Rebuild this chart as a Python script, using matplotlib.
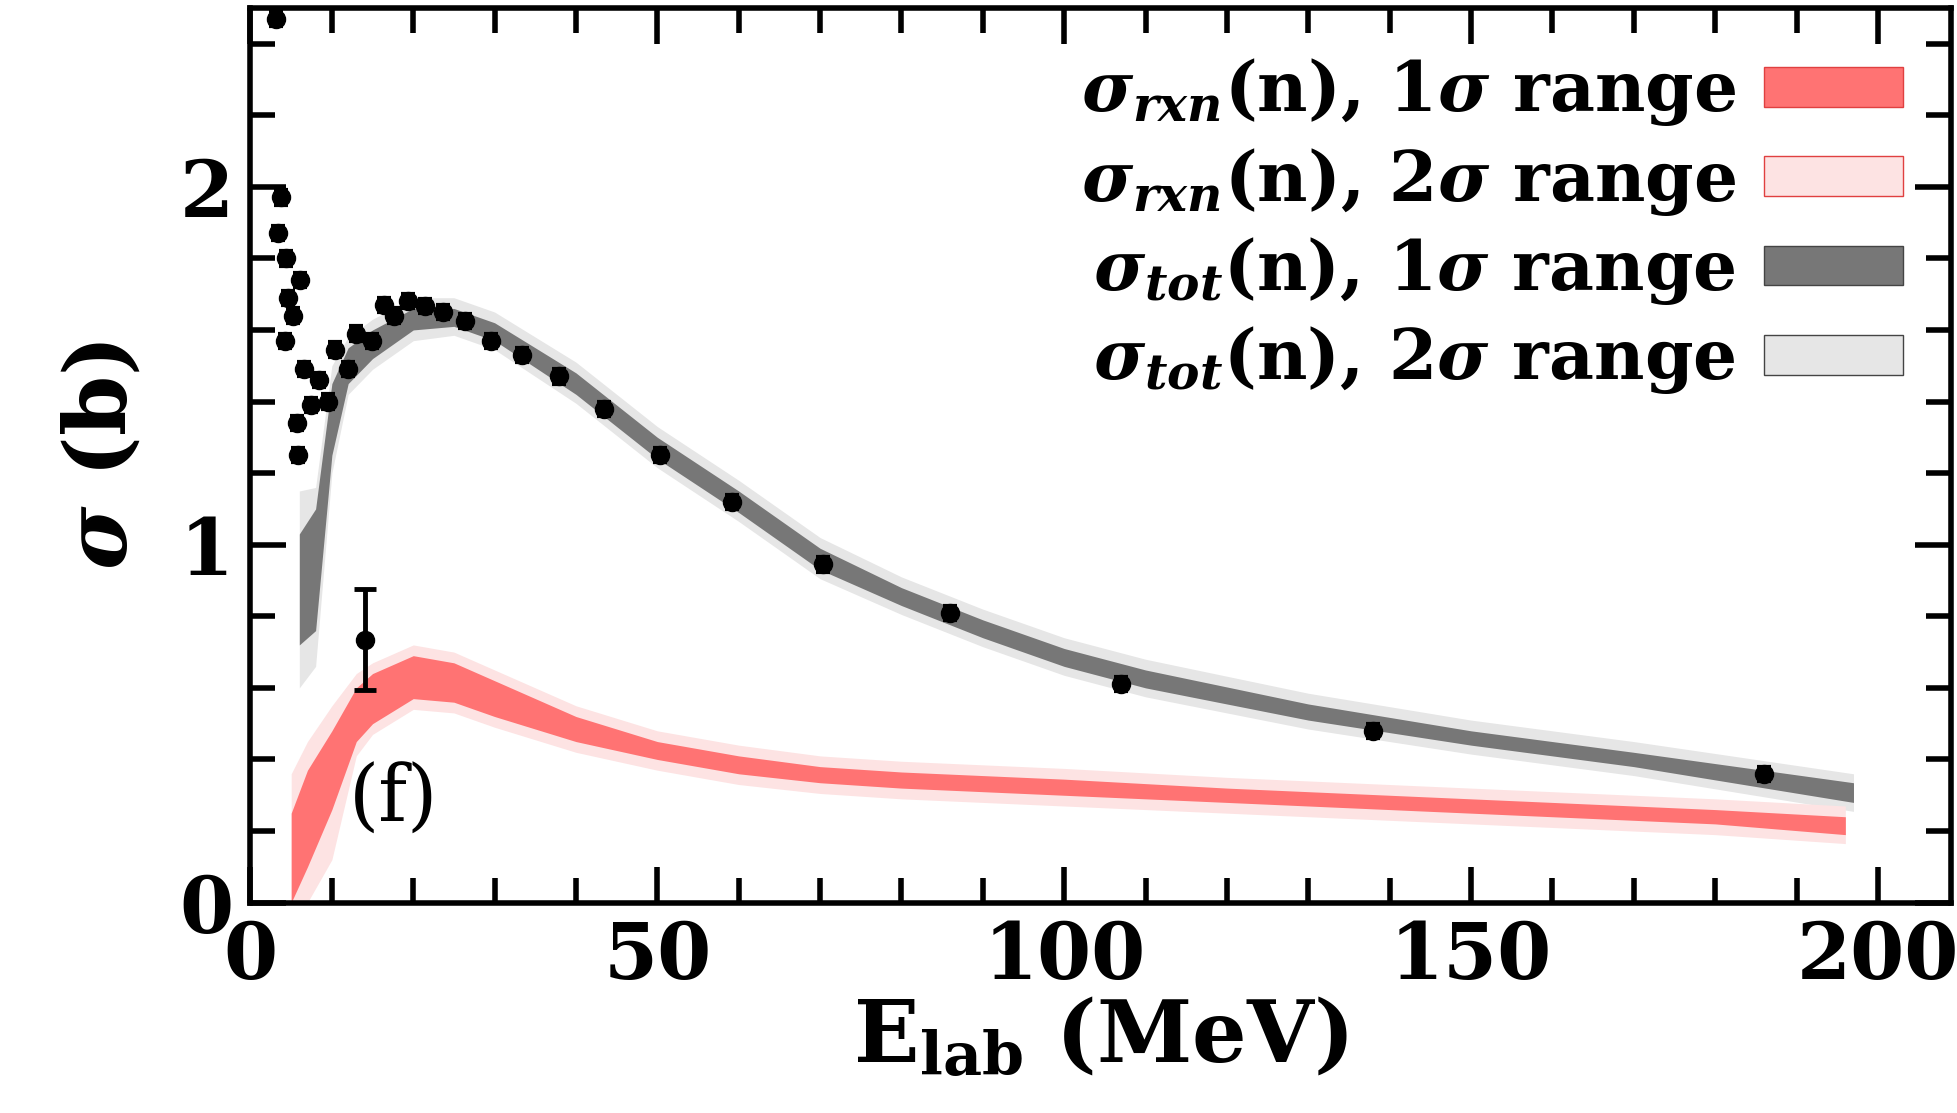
import matplotlib
matplotlib.use("Agg")
import matplotlib.pyplot as plt
import numpy as np
from matplotlib.patches import Patch
from matplotlib.ticker import MultipleLocator

plt.rcParams['font.family'] = 'DejaVu Serif'
plt.rcParams['font.weight'] = 'bold'
plt.rcParams['mathtext.fontset'] = 'custom'
plt.rcParams['mathtext.rm'] = 'DejaVu Serif:bold'
plt.rcParams['mathtext.it'] = 'DejaVu Serif:italic:bold'
plt.rcParams['mathtext.bf'] = 'DejaVu Serif:bold'

# total cross-section data
data_x = [3.1, 3.4, 3.8, 4.3, 4.4, 4.6, 5.2, 5.7, 5.8, 6.1, 6.6, 7.4, 8.4, 9.5, 10.4, 12.0, 13.0,
          14.9, 16.4, 17.6, 19.3, 21.5, 23.6, 26.4, 29.6, 33.4, 37.9, 43.4, 50.3, 59.2, 70.3,
          86.0, 107.0, 138.0, 186.0]
data_y = [2.47, 1.87, 1.97, 1.57, 1.80, 1.69, 1.64, 1.34, 1.25, 1.74, 1.49, 1.39, 1.46, 1.40, 1.545,
          1.49, 1.59, 1.57, 1.67, 1.64, 1.68, 1.667, 1.65, 1.625, 1.57, 1.53, 1.47, 1.38, 1.25,
          1.12, 0.945, 0.81, 0.61, 0.48, 0.36]
# reaction cross-section data point
rxn_x = [14.1]
rxn_y = [0.735]
rxn_err = [0.14]

# total band
tot_x = [6, 8, 10, 12, 15, 20, 25, 30, 40, 50, 60, 70, 80, 90, 100, 110, 130, 150, 170, 197]
tot1_lo = [0.72, 0.76, 1.25, 1.45, 1.52, 1.60, 1.61, 1.57, 1.42, 1.24, 1.09, 0.93, 0.83, 0.74, 0.66, 0.60, 0.51, 0.44, 0.38, 0.28]
tot1_hi = [1.03, 1.10, 1.45, 1.55, 1.60, 1.66, 1.66, 1.62, 1.48, 1.30, 1.15, 0.99, 0.88, 0.79, 0.71, 0.65, 0.555, 0.48, 0.42, 0.335]
tot2_lo = [0.60, 0.66, 1.20, 1.42, 1.49, 1.57, 1.585, 1.545, 1.395, 1.215, 1.065, 0.905, 0.805, 0.715, 0.635, 0.575, 0.485, 0.415, 0.355, 0.255]
tot2_hi = [1.15, 1.16, 1.50, 1.58, 1.63, 1.69, 1.69, 1.65, 1.51, 1.33, 1.18, 1.02, 0.91, 0.82, 0.74, 0.68, 0.585, 0.51, 0.45, 0.36]

# reaction band
rxn_bx = [5, 7, 10, 13, 15, 20, 25, 30, 40, 50, 60, 70, 80, 100, 120, 150, 180, 196]
rxn1_lo = [0.00, 0.10, 0.26, 0.45, 0.50, 0.57, 0.56, 0.52, 0.45, 0.40, 0.36, 0.335, 0.32, 0.30, 0.28, 0.25, 0.22, 0.19]
rxn1_hi = [0.25, 0.37, 0.48, 0.60, 0.64, 0.69, 0.67, 0.62, 0.52, 0.45, 0.41, 0.38, 0.365, 0.345, 0.32, 0.29, 0.26, 0.24]
rxn2_lo = [0.00, 0.00, 0.12, 0.41, 0.47, 0.54, 0.53, 0.49, 0.42, 0.37, 0.33, 0.305, 0.29, 0.27, 0.25, 0.22, 0.19, 0.165]
rxn2_hi = [0.36, 0.45, 0.55, 0.64, 0.67, 0.72, 0.70, 0.65, 0.55, 0.48, 0.44, 0.41, 0.395, 0.375, 0.35, 0.32, 0.29, 0.27]

red, pink = '#ff7373', '#fde3e3'
dgrey, lgrey = '#777777', '#e6e6e6'

fig = plt.figure(figsize=(19.57, 11.13), dpi=100)
ax = fig.add_axes([0.128, 0.189, 0.869, 0.804])

ax.fill_between(tot_x, tot2_lo, tot2_hi, color=lgrey, lw=0)
ax.fill_between(tot_x, tot1_lo, tot1_hi, color=dgrey, lw=0)
ax.fill_between(rxn_bx, rxn2_lo, rxn2_hi, color=pink, lw=0)
ax.fill_between(rxn_bx, rxn1_lo, rxn1_hi, color=red, lw=0)

ax.errorbar(data_x, data_y, yerr=0.02, fmt='o', color='black', ms=13, capsize=5, elinewidth=3, capthick=3)
ax.errorbar(rxn_x, rxn_y, yerr=rxn_err, fmt='o', color='black', ms=13, capsize=8, elinewidth=3.5, capthick=3.5)

ax.set_xlim(0, 209)
ax.set_ylim(0, 2.5)
ax.xaxis.set_major_locator(MultipleLocator(50))
ax.xaxis.set_minor_locator(MultipleLocator(10))
ax.yaxis.set_major_locator(MultipleLocator(1))
ax.yaxis.set_minor_locator(MultipleLocator(0.2))
ax.tick_params(which='both', direction='in', top=True, right=True, width=4, labelsize=56, pad=12)
ax.tick_params(which='major', length=26)
ax.tick_params(which='minor', length=18)
for s in ax.spines.values():
    s.set_linewidth(4)

ax.set_xlabel(r'$\mathrm{E}_{\mathrm{lab}}$ (MeV)', fontsize=62, fontweight='bold', labelpad=0)
ax.set_ylabel(r'$\sigma$ (b)', fontsize=62, fontweight='bold', labelpad=25)
ax.text(0.058, 0.09, '(f)', transform=ax.transAxes, fontsize=56, fontweight='normal')

handles = [Patch(facecolor=red, edgecolor='#e04040', lw=1),
           Patch(facecolor=pink, edgecolor='#e04040', lw=1),
           Patch(facecolor=dgrey, edgecolor='#444444', lw=1),
           Patch(facecolor=lgrey, edgecolor='#444444', lw=1)]
labels = [r'$\sigma_{rxn}$(n), 1$\sigma$ range', r'$\sigma_{rxn}$(n), 2$\sigma$ range',
          r'$\sigma_{tot}$(n), 1$\sigma$ range', r'$\sigma_{tot}$(n), 2$\sigma$ range']
ax.legend(handles, labels, loc='upper right', frameon=False, markerfirst=False, fontsize=50,
          handlelength=2.0, handleheight=0.5, labelspacing=0.25, borderaxespad=0.3, handletextpad=0.4)

fig.savefig('out.png', dpi=100)
